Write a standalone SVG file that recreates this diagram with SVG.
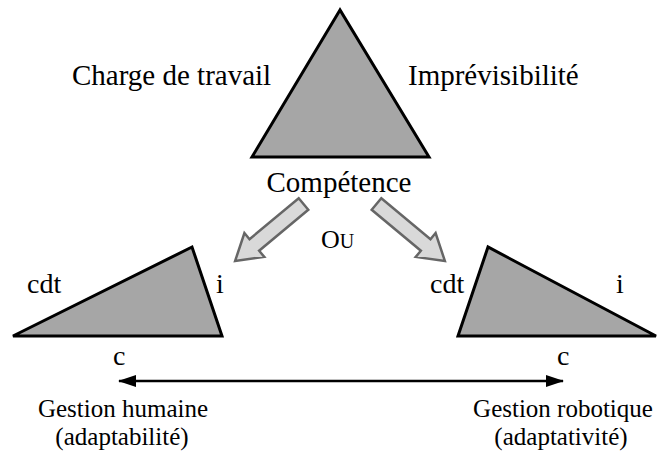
<svg xmlns="http://www.w3.org/2000/svg" width="659" height="453" viewBox="0 0 659 453" font-family="'Liberation Serif', 'Times New Roman', Times, serif">
<style>
text{font-family:"Liberation Serif","Times New Roman",Times,serif;fill:#000}
.t{font-size:29px}
.s{font-size:28px}
.b{font-size:25px}
.tri{fill:#a6a6a6;stroke:#000;stroke-width:3;stroke-linejoin:miter}
.blk{fill:#d9d9d9;stroke:#666;stroke-width:2.5;stroke-linejoin:miter}
</style>
<defs>
<marker id="ah" viewBox="0 0 18 12" refX="17" refY="6" markerWidth="18" markerHeight="12" markerUnits="userSpaceOnUse" orient="auto-start-reverse">
<path d="M0,0 L18,6 L0,12 Z" fill="#000"/>
</marker>
<path id="barrow" d="M0,-7.5 L64,-7.5 L64,-15.5 L89,0 L64,15.5 L64,7.5 L0,7.5 Z"/>
</defs>
<g id="top">
<polygon class="tri" points="340,10 252,157 429,157"/>
<text class="t" x="72" y="85">Charge de travail</text>
<text class="t" x="408" y="85">Imprévisibilité</text>
<text class="t" x="339" y="192" text-anchor="middle">Compétence</text>
</g>
<g id="left">
<polygon class="tri" points="13,336 192,247 222,336"/>
<text class="s" x="27" y="293">cdt</text>
<text class="s" x="216" y="293">i</text>
<text class="s" x="113" y="365">c</text>
</g>
<g id="right">
<polygon class="tri" points="488,247 458,336 656,336"/>
<text class="s" x="430" y="293">cdt</text>
<text class="s" x="616" y="293">i</text>
<text class="s" x="557" y="365">c</text>
</g>
<g id="ou">
<text x="321" y="248"><tspan font-size="26">O</tspan><tspan font-size="20">U</tspan></text>
</g>
<g id="human">
<text class="b" x="123" y="417" text-anchor="middle">Gestion humaine</text>
<text class="b" x="122" y="445" text-anchor="middle">(adaptabilité)</text>
</g>
<g id="robot">
<text class="b" x="563" y="417" text-anchor="middle">Gestion robotique</text>
<text class="b" x="561" y="445" text-anchor="middle">(adaptativité)</text>
</g>
<g id="connectors">
<use href="#barrow" class="blk" transform="translate(303.5,204) rotate(140.2)"/>
<use href="#barrow" class="blk" transform="translate(376.5,204) rotate(39.8)"/>
<line x1="119" y1="381" x2="563" y2="381" stroke="#000" stroke-width="2.5" marker-start="url(#ah)" marker-end="url(#ah)"/>
</g>
</svg>
